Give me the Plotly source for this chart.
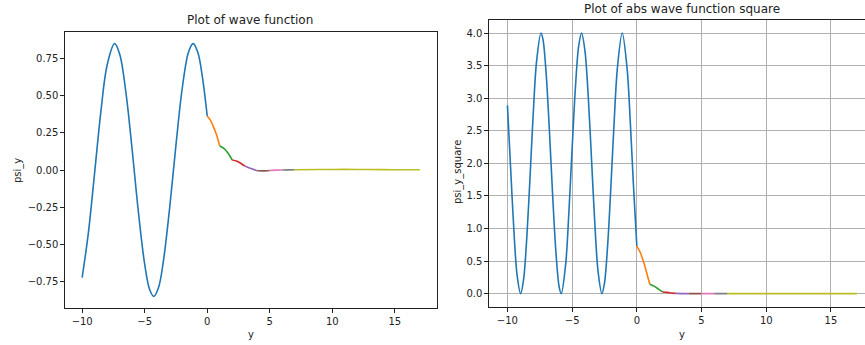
import plotly.graph_objects as go

# ---------------- data ----------------
# left panel: wave function, region y < 0 (blue)
psi_neg_x = [-10.0, -9.5, -9.0, -8.5, -8.0, -7.41, -7.0, -6.5, -6.0, -5.5, -5.0,
             -4.6, -4.27, -3.9, -3.5, -3.0, -2.5, -2.0, -1.5, -1.13, -0.75, -0.4, 0.0]
psi_neg_y = [-0.723, -0.419, -0.014, 0.396, 0.708, 0.850, 0.779, 0.519, 0.133, -0.286, -0.635,
             -0.805, -0.850, -0.792, -0.609, -0.251, 0.169, 0.548, 0.792, 0.850, 0.790, 0.633, 0.363]

# right panel: |psi|^2, region y < 0 (blue)
sq_neg_x = [-10.0, -9.75, -9.5, -9.25, -8.98, -8.75, -8.5, -8.25, -8.0, -7.75, -7.41,
            -7.25, -7.0, -6.75, -6.5, -6.25, -6.0, -5.84, -5.5, -5.25, -5.0,
            -4.75, -4.5, -4.27, -4.0, -3.75, -3.5, -3.25, -3.0, -2.70, -2.5,
            -2.25, -2.0, -1.75, -1.5, -1.13, -0.75, -0.5, -0.25, 0.0]
sq_neg_y = [2.89, 1.92, 0.97, 0.28, 0.00, 0.22, 0.87, 1.80, 2.78, 3.56, 4.00,
            3.90, 3.36, 2.48, 1.49, 0.63, 0.10, 0.00, 0.45, 1.25, 2.23,
            3.15, 3.79, 4.00, 3.71, 3.01, 2.06, 1.09, 0.35, 0.00, 0.16,
            0.76, 1.66, 2.65, 3.47, 4.00, 3.45, 2.61, 1.62, 0.73]

# region y >= 0: one short segment per unit interval
seg1_x = [0.0, 0.25, 0.5, 0.75, 1.0]
seg1_psi = [0.363, 0.335, 0.29, 0.235, 0.161]
seg1_sq = [0.73, 0.64, 0.50, 0.33, 0.144]

seg2_x = [1.0, 1.33, 1.67, 2.0]
seg2_psi = [0.161, 0.145, 0.112, 0.067]
seg2_sq = [0.144, 0.115, 0.07, 0.025]

seg3_x = [2.0, 2.33, 2.67, 3.0]
seg3_psi = [0.067, 0.060, 0.045, 0.027]
seg3_sq = [0.025, 0.020, 0.011, 0.004]

seg4_x = [3.0, 3.5, 4.0]
seg4_psi = [0.027, 0.010, -0.005]
seg4_sq = [0.004, 0.001, 0.0]

seg5_x = [4.0, 4.5, 5.0]
seg5_psi = [-0.005, -0.006, -0.003]
seg5_sq = [0.0, 0.0, 0.0]

seg6_x = [5.0, 5.5, 6.0]
seg6_psi = [-0.003, -0.001, 0.0]
seg6_sq = [0.0, 0.0, 0.0]

seg7_x = [6.0, 6.5, 7.0]
seg7_psi = [0.0, 0.001, 0.002]
seg7_sq = [0.0, 0.0, 0.0]

seg8_x = [7.0, 9.0, 11.0, 13.0, 15.0, 17.0]
seg8_psi = [0.002, 0.003, 0.004, 0.003, 0.002, 0.002]
seg8_sq = [0.0, 0.0, 0.0, 0.0, 0.0, 0.0]

x_tickvals = [-10, -5, 0, 5, 10, 15]
x_ticktext = ["\u221210", "\u22125", "0", "5", "10", "15"]
left_tickvals = [0.75, 0.5, 0.25, 0.0, -0.25, -0.5, -0.75]
left_ticktext = ["0.75", "0.50", "0.25", "0.00", "\u22120.25", "\u22120.50", "\u22120.75"]
right_tickvals = [0.0, 0.5, 1.0, 1.5, 2.0, 2.5, 3.0, 3.5, 4.0]
right_ticktext = ["0.0", "0.5", "1.0", "1.5", "2.0", "2.5", "3.0", "3.5", "4.0"]

# ---------------- style ----------------
BLUE = "#1f77b4"
seg_colors = ["#ff7f0e", "#2ca02c", "#d62728", "#9467bd",
              "#8c564b", "#e377c2", "#7f7f7f", "#bcbd22"]
FONT = "DejaVu Sans"
W, H = 865, 345
LW = 1.6

segments = [
    (seg1_x, seg1_psi, seg1_sq), (seg2_x, seg2_psi, seg2_sq),
    (seg3_x, seg3_psi, seg3_sq), (seg4_x, seg4_psi, seg4_sq),
    (seg5_x, seg5_psi, seg5_sq), (seg6_x, seg6_psi, seg6_sq),
    (seg7_x, seg7_psi, seg7_sq), (seg8_x, seg8_psi, seg8_sq),
]

fig = go.Figure()

fig.add_trace(go.Scatter(x=psi_neg_x, y=psi_neg_y, mode="lines",
                         line=dict(color=BLUE, width=LW, shape="spline", smoothing=1.0),
                         xaxis="x", yaxis="y", showlegend=False))
for (sx, sp, _), c in zip(segments, seg_colors):
    fig.add_trace(go.Scatter(x=sx, y=sp, mode="lines",
                             line=dict(color=c, width=LW, shape="spline", smoothing=0.6),
                             xaxis="x", yaxis="y", showlegend=False))

fig.add_trace(go.Scatter(x=sq_neg_x, y=sq_neg_y, mode="lines",
                         line=dict(color=BLUE, width=LW, shape="spline", smoothing=0.9),
                         xaxis="x2", yaxis="y2", showlegend=False))
for (sx, _, sq), c in zip(segments, seg_colors):
    fig.add_trace(go.Scatter(x=sx, y=sq, mode="lines",
                             line=dict(color=c, width=LW, shape="spline", smoothing=0.6),
                             xaxis="x2", yaxis="y2", showlegend=False))

tick_font = dict(family=FONT, size=10, color="#222222")
axis_common = dict(showline=True, linecolor="#222222", linewidth=1,
                   ticks="outside", ticklen=4, tickwidth=1, tickcolor="#222222",
                   tickfont=tick_font, zeroline=False)

def px_x(p):
    return p / W

def px_y(p):
    return 1 - p / H

fig.update_layout(
    width=W, height=H,
    margin=dict(l=0, r=0, t=0, b=0),
    paper_bgcolor="white", plot_bgcolor="white",
    font=dict(family=FONT, color="#222222"),
    xaxis=dict(domain=[px_x(65.3), px_x(436.7)], range=[-11.35, 18.35],
               tickvals=x_tickvals, ticktext=x_ticktext, mirror=True,
               showgrid=False, anchor="y", **axis_common),
    yaxis=dict(domain=[px_y(307.7), px_y(31.7)], range=[-0.926, 0.930],
               tickvals=left_tickvals, ticktext=left_ticktext, mirror=True,
               showgrid=False, anchor="x", **axis_common),
    xaxis2=dict(domain=[px_x(489.3), 1.0], range=[-11.4, 17.63],
                tickvals=x_tickvals, ticktext=x_ticktext, mirror=True,
                showgrid=True, gridcolor="#b0b0b0", gridwidth=0.8,
                anchor="y2", **axis_common),
    yaxis2=dict(domain=[px_y(306.7), px_y(20.0)], range=[-0.2, 4.2],
                tickvals=right_tickvals, ticktext=right_ticktext, mirror=False,
                showgrid=True, gridcolor="#b0b0b0", gridwidth=0.8,
                anchor="x2", **axis_common),
    annotations=[
        dict(text="Plot of wave function", x=px_x(250), y=px_y(20), xref="paper", yref="paper",
             showarrow=False, xanchor="center", yanchor="middle",
             font=dict(family=FONT, size=12, color="#222222")),
        dict(text="Plot of abs wave function square", x=px_x(682), y=px_y(9.5), xref="paper",
             yref="paper", showarrow=False, xanchor="center", yanchor="middle",
             font=dict(family=FONT, size=12, color="#222222")),
        dict(text="y", x=px_x(251), y=px_y(334), xref="paper", yref="paper",
             showarrow=False, xanchor="center", yanchor="middle",
             font=dict(family=FONT, size=10, color="#222222")),
        dict(text="y", x=px_x(682), y=px_y(334), xref="paper", yref="paper",
             showarrow=False, xanchor="center", yanchor="middle",
             font=dict(family=FONT, size=10, color="#222222")),
        dict(text="psi_y", x=px_x(18), y=px_y(171), xref="paper", yref="paper",
             showarrow=False, xanchor="center", yanchor="middle", textangle=-90,
             font=dict(family=FONT, size=10, color="#222222")),
        dict(text="psi_y_square", x=px_x(458), y=px_y(172), xref="paper", yref="paper",
             showarrow=False, xanchor="center", yanchor="middle", textangle=-90,
             font=dict(family=FONT, size=10, color="#222222")),
    ],
)

fig.write_html("out.html")
